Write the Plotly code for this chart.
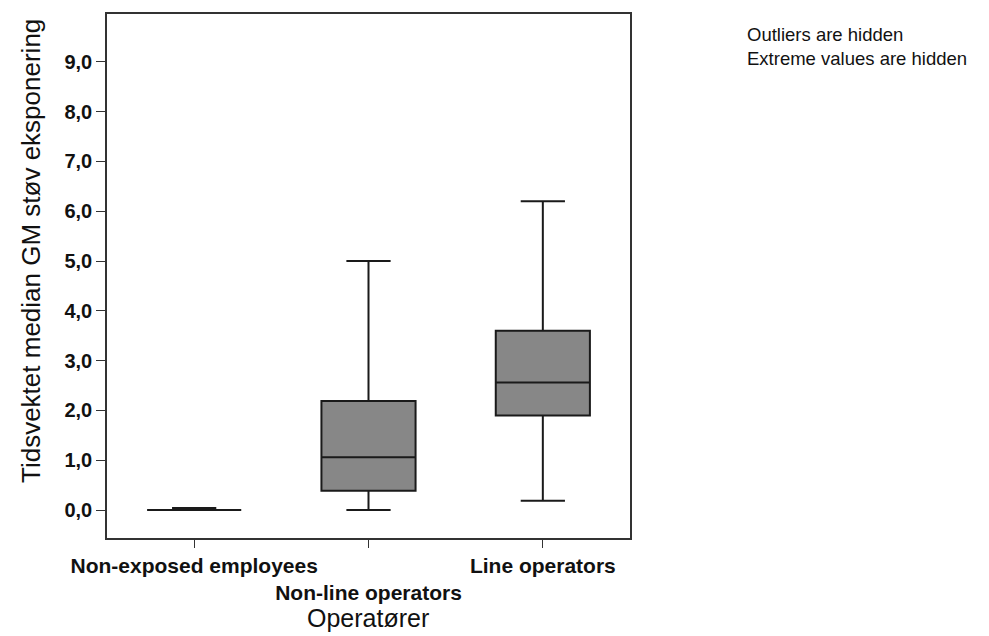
import plotly.graph_objects as go

categories = ["Non-exposed employees", "Non-line operators", "Line operators"]
tick_text = ["Non-exposed employees", "<br>Non-line operators", "Line operators"]
lower_fence = [0.0, 0.0, 0.19]
q1 = [0.0, 0.39, 1.90]
median = [0.0, 1.06, 2.56]
q3 = [0.0, 2.19, 3.60]
upper_fence = [0.04, 5.0, 6.2]
y_ticks = [0, 1, 2, 3, 4, 5, 6, 7, 8, 9]

FONT = "Liberation Sans, Arial, sans-serif"

fig = go.Figure()
fig.add_trace(go.Box(
    x=categories, q1=q1, median=median, q3=q3,
    lowerfence=lower_fence, upperfence=upper_fence,
    fillcolor="#878787", line=dict(color="#1a1a1a", width=2),
    whiskerwidth=0.47, width=0.54, boxpoints=False, showlegend=False,
))

fig.update_layout(
    width=989, height=636,
    margin=dict(l=99, r=367, t=6, b=106),
    plot_bgcolor="white", paper_bgcolor="white",
    separators=", ",
    font=dict(family=FONT, color="#111111"),
    xaxis=dict(
        type="category", categoryorder="array", categoryarray=categories,
        range=[-0.5, 2.5],
        tickvals=categories, ticktext=tick_text, tickangle=0, automargin=False,
        showline=True, linecolor="#333333", linewidth=1.5, mirror=True,
        ticks="outside", ticklen=8, tickcolor="#333333",
        tickfont=dict(size=21, family=FONT, weight="bold"),
        showgrid=False, zeroline=False,
    ),
    yaxis=dict(
        range=[-0.56, 9.96], tickvals=y_ticks, tickformat=".1f", automargin=False,
        showline=True, linecolor="#333333", linewidth=1.5, mirror=True,
        ticks="outside", ticklen=9, tickcolor="#333333",
        tickfont=dict(size=20, family=FONT, weight="bold"),
        showgrid=False, zeroline=False,
    ),
    annotations=[
        dict(text="Outliers are hidden<br>Extreme values are hidden",
             xref="paper", yref="paper", x=1.22, y=0.985,
             xanchor="left", yanchor="top", align="left",
             showarrow=False, font=dict(size=18.5, color="#111111")),
        dict(text="Tidsvektet median GM støv eksponering",
             xref="paper", yref="paper", x=-0.145, y=0.548,
             xanchor="center", yanchor="middle", textangle=-90,
             showarrow=False, font=dict(size=26, color="#111111")),
        dict(text="Operatører",
             xref="paper", yref="paper", x=0.499, y=-0.152,
             xanchor="center", yanchor="middle",
             showarrow=False, font=dict(size=25, color="#111111")),
    ],
)

fig.write_html("out.html")
